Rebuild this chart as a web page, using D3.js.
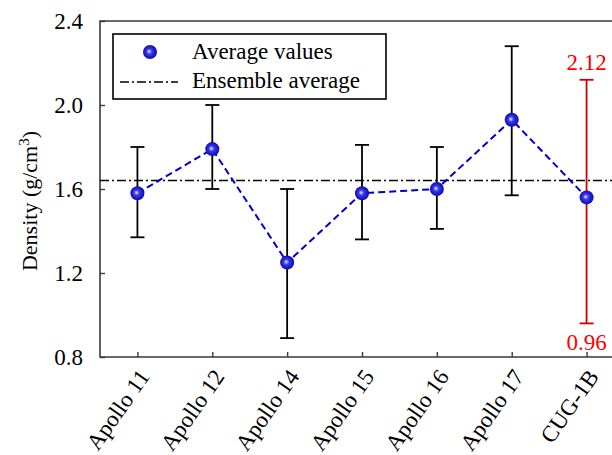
<!DOCTYPE html>
<html>
<head>
<meta charset="utf-8">
<script src="https://cdn.jsdelivr.net/npm/d3@7"></script>
<style>
  html, body { margin: 0; padding: 0; background: #fff; }
</style>
</head>
<body>
<svg id="chart" width="612" height="455" font-family="Liberation Serif"></svg>
<script>
// Sample sites and their density statistics (g/cm^3)
const categories = ["Apollo 11", "Apollo 12", "Apollo 14", "Apollo 15", "Apollo 16", "Apollo 17", "CUG-1B"];
const avgValues = [1.58, 1.79, 1.25, 1.58, 1.60, 1.93, 1.56];
const upperValues = [1.80, 2.00, 1.60, 1.81, 1.80, 2.28, 2.12];
const lowerValues = [1.37, 1.60, 0.89, 1.36, 1.41, 1.57, 0.96];
const ensembleAverage = 1.64;
const yTicks = [0.8, 1.2, 1.6, 2.0, 2.4];
const highlightIndex = 6; // CUG-1B drawn in red with its range annotated

const FONT = "Liberation Serif";
const svg = d3.select("#chart");
const plotLeft = 100, plotTop = 21, plotBottom = 357, plotRight = 624;

const x = d3.scaleLinear().domain([0.5, categories.length + 0.5]).range([plotLeft, plotRight]);
const y = d3.scaleLinear().domain([0.8, 2.4]).range([plotBottom, plotTop]);

// Sphere-like marker gradient
const defs = svg.append("defs");
const grad = defs.append("radialGradient").attr("id", "ball")
  .attr("cx", "0.5").attr("cy", "0.5").attr("r", "0.55")
  .attr("fx", "0.42").attr("fy", "0.45");
grad.append("stop").attr("offset", "0").attr("stop-color", "#e8e8ff");
grad.append("stop").attr("offset", "0.35").attr("stop-color", "#3a3ae6");
grad.append("stop").attr("offset", "1").attr("stop-color", "#0000b0");

// Frame: left, top and bottom lines
const frameColor = "#3a3a3a";
svg.append("path")
  .attr("d", `M${plotRight},${plotTop}H${plotLeft}V${plotBottom}H${plotRight}`)
  .attr("fill", "none").attr("stroke", frameColor).attr("stroke-width", 1.6);

// Y axis (ticks inward)
const yAxis = d3.axisLeft(y).tickValues(yTicks).tickFormat(d3.format(".1f"))
  .tickSizeInner(-5).tickSizeOuter(0).tickPadding(17);
const gy = svg.append("g").attr("transform", `translate(${plotLeft},0)`).call(yAxis)
  .attr("font-family", FONT).attr("font-size", 23);
gy.select(".domain").remove();
gy.selectAll(".tick line").attr("stroke", frameColor).attr("stroke-width", 1.4);
gy.selectAll(".tick text").attr("fill", "#000").attr("font-family", FONT).attr("font-size", 23);

// X axis (ticks inward, rotated labels)
const xAxis = d3.axisBottom(x).tickValues(d3.range(1, categories.length + 1))
  .tickFormat(d => categories[d - 1]).tickSizeInner(-5).tickSizeOuter(0);
const gx = svg.append("g").attr("transform", `translate(0,${plotBottom})`).call(xAxis)
  .attr("font-family", FONT).attr("font-size", 23);
gx.select(".domain").remove();
gx.selectAll(".tick line").attr("stroke", frameColor).attr("stroke-width", 1.4);
gx.selectAll(".tick text")
  .attr("fill", "#000").attr("font-family", FONT).attr("font-size", 23)
  .attr("text-anchor", "end")
  .attr("y", 0).attr("dy", "0.35em")
  .attr("transform", "translate(6,15) rotate(-55)");

// Y axis title with superscript
const yTitle = svg.append("text")
  .attr("transform", `translate(37,${(plotTop + plotBottom) / 2 + 12}) rotate(-90)`)
  .attr("text-anchor", "middle").attr("font-family", FONT).attr("font-size", 22).attr("fill", "#000");
yTitle.append("tspan").text("Density (g/cm");
yTitle.append("tspan").attr("dy", -8).attr("font-size", 15).text("3");
yTitle.append("tspan").attr("dy", 8).text(")");

// Ensemble average line
svg.append("line")
  .attr("x1", plotLeft).attr("x2", plotRight)
  .attr("y1", y(ensembleAverage)).attr("y2", y(ensembleAverage))
  .attr("stroke", "#000").attr("stroke-width", 1.5)
  .attr("stroke-dasharray", "9,3,2,3");

// Error bars
const capHalf = 7;
categories.forEach((c, i) => {
  const cx = x(i + 1);
  const color = i === highlightIndex ? "#cc0000" : "#000";
  const g = svg.append("g").attr("stroke", color).attr("stroke-width", 1.8).attr("fill", "none");
  g.append("line").attr("x1", cx).attr("x2", cx).attr("y1", y(upperValues[i])).attr("y2", y(lowerValues[i]));
  g.append("line").attr("x1", cx - capHalf).attr("x2", cx + capHalf).attr("y1", y(upperValues[i])).attr("y2", y(upperValues[i]));
  g.append("line").attr("x1", cx - capHalf).attr("x2", cx + capHalf).attr("y1", y(lowerValues[i])).attr("y2", y(lowerValues[i]));
});

// Range labels for the highlighted sample
const hx = x(highlightIndex + 1);
svg.append("text").attr("x", hx).attr("y", y(upperValues[highlightIndex]) - 10)
  .attr("text-anchor", "middle").attr("font-family", FONT).attr("font-size", 23).attr("fill", "#ff0000")
  .text(upperValues[highlightIndex].toFixed(2));
svg.append("text").attr("x", hx).attr("y", y(lowerValues[highlightIndex]) + 27)
  .attr("text-anchor", "middle").attr("font-family", FONT).attr("font-size", 23).attr("fill", "#ff0000")
  .text(lowerValues[highlightIndex].toFixed(2));

// Dashed line through averages
const line = d3.line().x((d, i) => x(i + 1)).y(d => y(d));
svg.append("path").datum(avgValues)
  .attr("d", line).attr("fill", "none")
  .attr("stroke", "#0000cc").attr("stroke-width", 2).attr("stroke-dasharray", "7,4");

// Average markers
svg.selectAll("circle.avg").data(avgValues).join("circle")
  .attr("class", "avg")
  .attr("cx", (d, i) => x(i + 1)).attr("cy", d => y(d)).attr("r", 7)
  .attr("fill", "url(#ball)");

// Legend
const lg = svg.append("g").attr("font-family", FONT);
lg.append("rect").attr("x", 113).attr("y", 34).attr("width", 273).attr("height", 65)
  .attr("fill", "#fff").attr("stroke", "#000").attr("stroke-width", 1.6);
lg.append("circle").attr("cx", 150).attr("cy", 52).attr("r", 7).attr("fill", "url(#ball)");
lg.append("line").attr("x1", 120).attr("x2", 178).attr("y1", 82).attr("y2", 82)
  .attr("stroke", "#000").attr("stroke-width", 1.5).attr("stroke-dasharray", "9,3,2,3");
lg.append("text").attr("x", 192).attr("y", 59).attr("font-family", FONT).attr("font-size", 23).attr("fill", "#000").text("Average values");
lg.append("text").attr("x", 192).attr("y", 88).attr("font-family", FONT).attr("font-size", 23).attr("fill", "#000").text("Ensemble average");
</script>
</body>
</html>
